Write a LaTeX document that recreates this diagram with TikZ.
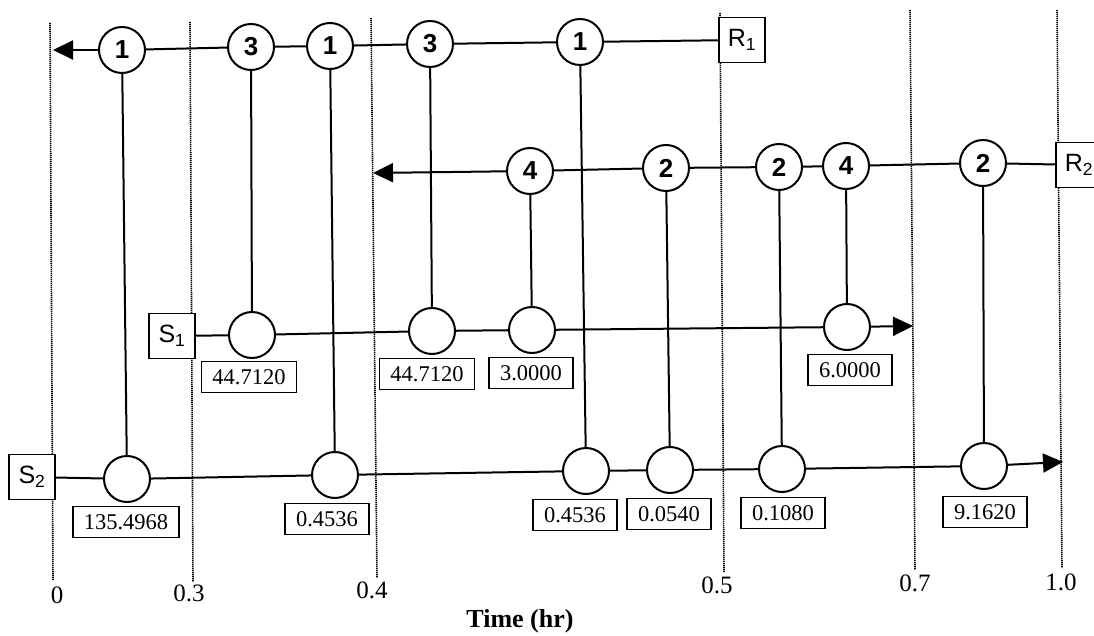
\documentclass[tikz,border=0pt]{standalone}
\usepackage{fontspec}
\setmainfont{Liberation Serif}
\setsansfont{Liberation Sans}
\usetikzlibrary{arrows.meta}
\begin{document}
\begin{tikzpicture}[x=1pt,y=-1pt,
  ln/.style={line width=2pt},
  dotv/.style={line width=1.6pt, dash pattern=on 1.1pt off 0.9pt},
  opc/.style={circle, draw, line width=2pt, fill=white, minimum size=46pt, inner sep=0pt, font=\sffamily\bfseries\fontsize{26}{26}\selectfont},
  val/.style={draw, line width=1.8pt, fill=white, inner xsep=11pt, inner ysep=0pt, minimum height=31pt, font=\fontsize{22.5}{22.5}\selectfont},
  lab/.style={draw, line width=1.8pt, fill=white, minimum width=46pt, minimum height=45pt, inner sep=0pt, font=\sffamily\fontsize{25}{25}\selectfont},
  tick/.style={font=\fontsize{25}{25}\selectfont},
  arr/.style={-{Triangle[length=20pt,width=19pt]}}
]
\useasboundingbox (0,0) rectangle (1094,636);
% dotted time lines
\draw[dotv] (50,23) -- (53,580);
\draw[dotv] (190,22) -- (193,582);
\draw[dotv] (371,18) -- (377,578);
\draw[dotv] (720,13) -- (724,572);
\draw[dotv] (910,10) -- (915,570);
\draw[dotv] (1057,10) -- (1062,568);
% tick labels
\node[tick] (t0) at (57,595) {0};
\node[tick] (t3) at (189,593) {0.3};
\node[tick] (t4) at (372,590) {0.4};
\node[tick] (t5) at (717,585) {0.5};
\node[tick] (t7) at (915,583) {0.7};
\node[tick] (t10) at (1061,582) {1.0};
\node[font=\bfseries\fontsize{26}{26}\selectfont] (tt) at (520,621) {Time (hr)};
% top row
\node[lab] (r1) at (742,40) {R\textsubscript{1}};
\node[opc] (a1) at (122,50) {1};
\node[opc] (a2) at (251,47) {3};
\node[opc] (a3) at (330,46) {1};
\node[opc] (a4) at (430,44) {3};
\node[opc] (a5) at (580,42) {1};
\coordinate (tipA) at (53,50);
% second row
\node[lab] (r2) at (1079,165) {R\textsubscript{2}};
\node[opc] (b1) at (530,171) {4};
\node[opc] (b2) at (666,168) {2};
\node[opc] (b3) at (779,167) {2};
\node[opc] (b4) at (846,166) {4};
\node[opc] (b5) at (983,163) {2};
\coordinate (tipB) at (373,173);
% S1 row
\node[lab] (s1) at (172,336) {S\textsubscript{1}};
\node[opc] (c1) at (252,335) {};
\node[opc] (c2) at (432,331) {};
\node[opc] (c3) at (532,330) {};
\node[opc] (c4) at (847,327) {};
\coordinate (tipC) at (913,326);
% S2 row
\node[lab] (s2) at (32,477) {S\textsubscript{2}};
\node[opc] (d1) at (127,479) {};
\node[opc] (d2) at (335,475) {};
\node[opc] (d3) at (586,471) {};
\node[opc] (d4) at (670,470) {};
\node[opc] (d5) at (782,469) {};
\node[opc] (d6) at (984,466) {};
\coordinate (tipD) at (1063,462);
% value boxes
\node[val] (vc1) at (249,377) {44.7120};
\node[val] (vc2) at (427,374) {44.7120};
\node[val] (vc3) at (531,373) {3.0000};
\node[val] (vc4) at (850,370) {6.0000};
\node[val] (vd1) at (126,522) {135.4968};
\node[val] (vd2) at (327,519) {0.4536};
\node[val] (vd3) at (575,515) {0.4536};
\node[val] (vd4) at (669,514) {0.0540};
\node[val] (vd5) at (783,513) {0.1080};
\node[val] (vd6) at (985,512) {9.1620};
% horizontal lines
\draw[ln] (r1) -- (a5) -- (a4) -- (a3) -- (a2) -- (a1);
\draw[ln,arr] (a1) -- (tipA);
\draw[ln] (r2) -- (b5) -- (b4) -- (b3) -- (b2) -- (b1);
\draw[ln,arr] (b1) -- (tipB);
\draw[ln] (s1) -- (c1) -- (c2) -- (c3) -- (c4);
\draw[ln,arr] (c4) -- (tipC);
\draw[ln] (s2) -- (d1) -- (d2) -- (d3) -- (d4) -- (d5) -- (d6);
\draw[ln,arr] (d6) -- (tipD);
% vertical connectors
\draw[ln] (a1) -- (d1);
\draw[ln] (a2) -- (c1);
\draw[ln] (a3) -- (d2);
\draw[ln] (a4) -- (c2);
\draw[ln] (a5) -- (d3);
\draw[ln] (b1) -- (c3);
\draw[ln] (b2) -- (d4);
\draw[ln] (b3) -- (d5);
\draw[ln] (b4) -- (c4);
\draw[ln] (b5) -- (d6);
\end{tikzpicture}
\end{document}
